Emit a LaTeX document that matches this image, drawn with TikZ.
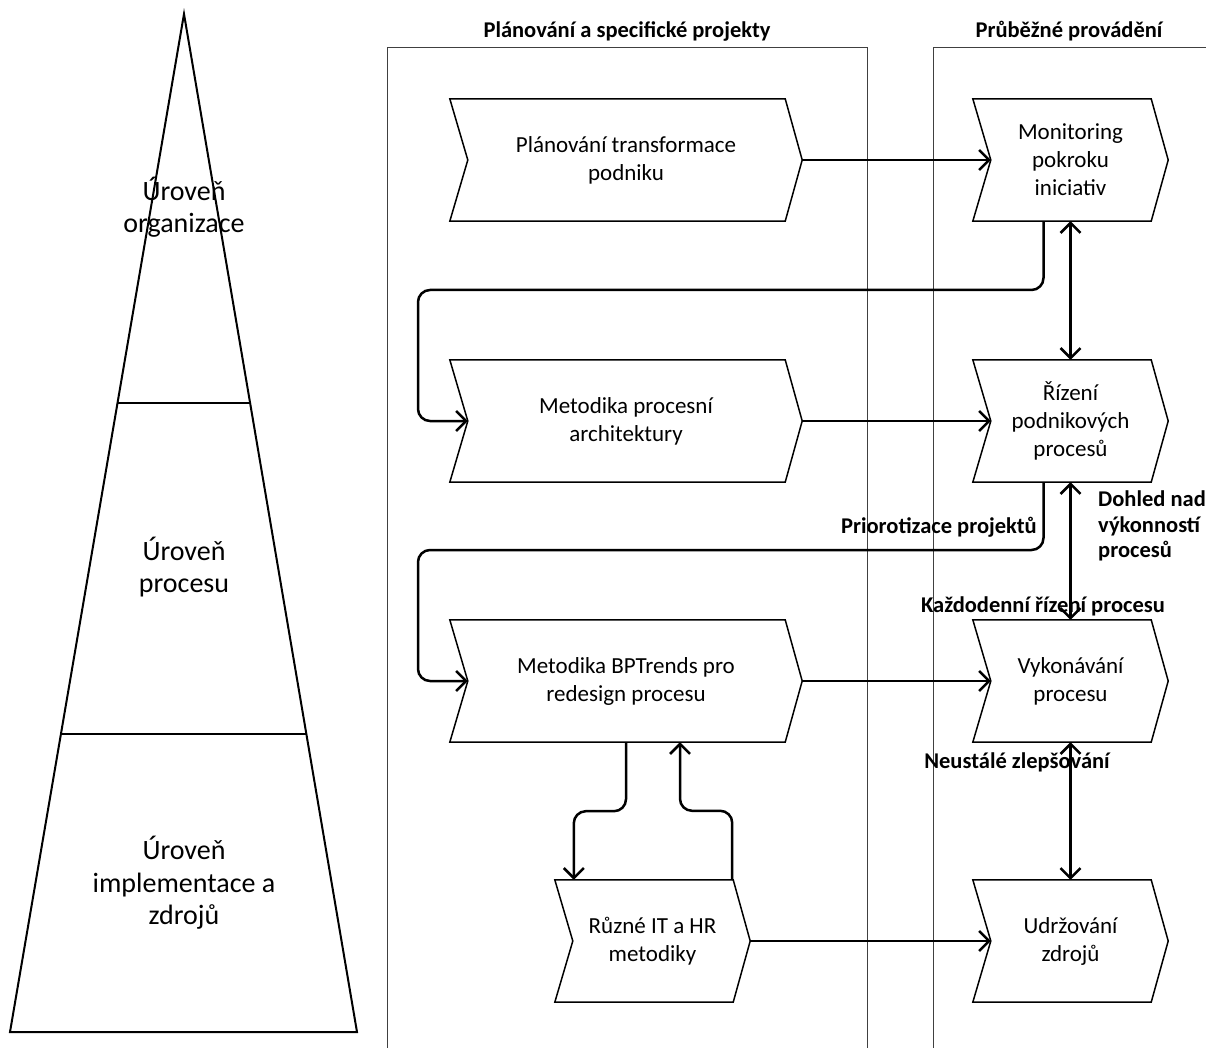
\documentclass[tikz,border=0pt]{standalone}
\usepackage{fontspec}
\setmainfont{Carlito}
\usetikzlibrary{arrows.meta,calc}

\begin{document}
\begin{tikzpicture}[x=1pt,y=-1pt,
        chev/.style={minimum height=122pt, inner sep=0pt, align=center, font=\fontsize{23}{28}\selectfont},
        level/.style={align=center, inner sep=0pt, font=\fontsize{28}{32.5}\selectfont},
        lbl/.style={inner sep=0pt, font=\fontsize{22.5}{25.5}\selectfont\bfseries},
        conn/.style={line width=2.5pt, rounded corners=12pt},
        tip/.style={-{Straight Barb[length=10pt,width=20pt]}},
        both/.style={{Straight Barb[length=10pt,width=20pt]}-{Straight Barb[length=10pt,width=20pt]}}]
        \useasboundingbox (0,0) rectangle (1206,1048);

        \coordinate (apex) at (184,14);
        \coordinate (bl) at (10,1032);
        \coordinate (br) at (357,1032);
        \draw[line width=2pt] (bl) -- (apex) -- (br) -- cycle;
        \foreach \t in {0.382,0.7073} {
            \draw[line width=2pt] ($(apex)!\t!(bl)$) -- ($(apex)!\t!(br)$);
        }
        \node[level] (org) at (184,207) {Úroveň\\organizace};
        \node[level] (proc) at (184,567) {Úroveň\\procesu};
        \node[level] (impl) at (184,883) {Úroveň\\implementace a\\zdrojů};

        \draw[black!75, line width=1pt] (387,1048) |- (867,48) -- (867,1048);
        \draw[black!75, line width=1pt] (933,1048) |- (1206,48);
        \node[lbl] (hplan) at (627,31) {Plánování a specifické projekty};
        \node[lbl] (hrun) at (1069,31) {Průběžné provádění};

        \node[chev, minimum width=352pt] (plan) at (626,160) {Plánování transformace\\podniku};
        \node[chev, minimum width=352pt] (arch) at (626,421) {Metodika procesní\\architektury};
        \node[chev, minimum width=352pt] (bpt) at (626,681) {Metodika BPTrends pro\\redesign procesu};
        \node[chev, minimum width=195pt] (ruzne) at (652.5,941) {Různé IT a HR\\metodiky};
        \node[chev, minimum width=195pt] (mon) at (1070.5,160) {Monitoring\\pokroku\\iniciativ};
        \node[chev, minimum width=195pt] (riz) at (1070.5,421) {Řízení\\podnikových\\procesů};
        \node[chev, minimum width=195pt] (vyk) at (1070.5,681) {Vykonávání\\procesu};
        \node[chev, minimum width=195pt] (udr) at (1070.5,941) {Udržování\\zdrojů};
        \foreach \n in {plan,arch,bpt,ruzne,mon,riz,vyk,udr} {
            \draw[line width=1.5pt] (\n.north west) -- ([xshift=18pt]\n.west) -- (\n.south west)
                -- ([xshift=-17pt]\n.south east) -- (\n.east) -- ([xshift=-17pt]\n.north east) -- cycle;
        }

        \draw[conn, tip] (plan.east) -- ([xshift=18pt]mon.west);
        \draw[conn, tip] (arch.east) -- ([xshift=18pt]riz.west);
        \draw[conn, tip] (bpt.east) -- ([xshift=18pt]vyk.west);
        \draw[conn, tip] (ruzne.east) -- ([xshift=18pt]udr.west);
        \draw[conn, both] (mon.south) -- (riz.north);
        \draw[conn, both] (riz.south) -- (vyk.north);
        \draw[conn, both] (vyk.south) -- (udr.north);

        \coordinate (bendA) at (418,290);
        \coordinate (bendB) at (418,550);
        \draw[conn, tip] ([xshift=-27pt]mon.south) |- (bendA) |- ([xshift=18pt]arch.west);
        \draw[conn, tip] ([xshift=-27pt]riz.south) |- (bendB) |- ([xshift=18pt]bpt.west);
        \draw[conn, tip] (bpt.south) -- ++(0,69) -| ([xshift=19pt]ruzne.north west);
        \draw[conn, tip] ([xshift=-18pt]ruzne.north east) -- ++(0,-69) -| ([xshift=54pt]bpt.south);

        \node[lbl, anchor=east] (prio) at (1037,527) {Priorotizace projektů};
        \node[lbl, anchor=west, align=left] (dohled) at (1098,526) {Dohled nad\\výkonností\\procesů};
        \node[lbl] (kazdo) at (1043,606) {Každodenní řízení procesu};
        \node[lbl] (neust) at (1017,762) {Neustálé zlepšování};
    \end{tikzpicture}
\end{document}
